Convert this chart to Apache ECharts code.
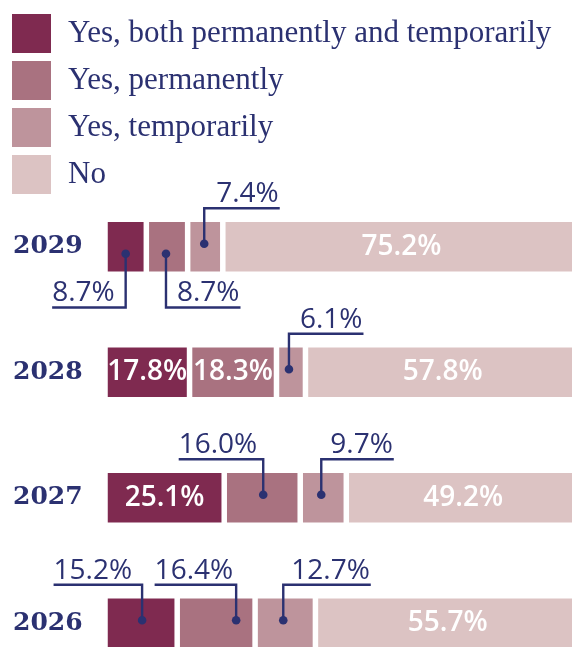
<!DOCTYPE html>
<html><head><meta charset="utf-8">
<script src="https://cdn.jsdelivr.net/npm/echarts@6/dist/echarts.min.js"></script>
<style>html,body{margin:0;padding:0;background:#fff}#c{width:572px;height:647px}</style>
</head><body><div id="c"></div>
<script>
const years = ['2029', '2028', '2027', '2026'];
const seriesNames = ['Yes, both permanently and temporarily', 'Yes, permanently', 'Yes, temporarily', 'No'];
const bothValues = [8.7, 17.8, 25.1, 15.2];
const permanentValues = [8.7, 18.3, 16.0, 16.4];
const temporaryValues = [7.4, 6.1, 9.7, 12.7];
const noValues = [75.2, 57.8, 49.2, 55.7];
const values = [bothValues, permanentValues, temporaryValues, noValues];

// Callout placement (layout only): which segments get an outside label with a leader line
const callouts = [
  { year: 0, s: 0, dir: 'down', side: 'left', dx: 0, gap: 11 },
  { year: 0, s: 1, dir: 'down', side: 'right', dx: -1, gap: 11 },
  { year: 0, s: 2, dir: 'up', side: 'right', dx: -1, gap: 12 },
  { year: 1, s: 2, dir: 'up', side: 'right', dx: -2, gap: 11 },
  { year: 2, s: 1, dir: 'up', side: 'left', dx: 1, gap: 6 },
  { year: 2, s: 2, dir: 'up', side: 'right', dx: -2, gap: 9 },
  { year: 3, s: 0, dir: 'up', side: 'left', dx: 1, gap: 10 },
  { year: 3, s: 1, dir: 'up', side: 'left', dx: 20, gap: 3 },
  { year: 3, s: 2, dir: 'up', side: 'right', dx: -2, gap: 8 }
];

const colors = ['#7F2A50', '#A97280', '#BE949C', '#DCC3C3'];
const navy = '#2B3171';
const calloutFont = '400 28px "Open Sans"';

const ctx = document.createElement('canvas').getContext('2d');
function measure(t) { ctx.font = calloutFont; return ctx.measureText(t).width; }
function fmt(v) { return v.toFixed(1) + '%'; }
function isCallout(yi, s) { return callouts.some(c => c.year === yi && c.s === s); }

const barSeries = seriesNames.map((name, s) => ({
  name: name,
  type: 'bar',
  stack: 'total',
  barWidth: 55,
  itemStyle: { color: colors[s], borderColor: '#ffffff', borderWidth: 2.75 },
  label: {
    position: 'inside', color: '#ffffff', fontFamily: 'Open Sans', fontWeight: 600, fontSize: 28,
    formatter: p => fmt(p.value)
  },
  data: values[s].map((v, yi) => ({ value: v, label: { show: !isCallout(yi, s) } }))
}));

const calloutData = callouts.map((c, i) => {
  let cum = 0;
  for (let k = 0; k < c.s; k++) cum += values[k][c.year];
  return [cum + values[c.s][c.year] / 2, c.year, i];
});

const leaderSeries = {
  type: 'custom',
  z: 10,
  silent: true,
  data: calloutData,
  renderItem: function (params, api) {
    const c = callouts[api.value(2)];
    const p = api.coord([api.value(0), api.value(1)]);
    const cx = p[0] + c.dx, cy = p[1];
    const text = fmt(values[c.s][c.year]);
    const w = measure(text);
    const dotY = c.dir === 'up' ? cy - 3 : cy + 7;
    const lineY = c.dir === 'up' ? cy - 38.5 : cy + 60.7;
    let tx, endX;
    if (c.side === 'right') { tx = cx + c.gap; endX = tx + w + 1; }
    else { tx = cx - c.gap - w; endX = tx; }
    return {
      type: 'group',
      children: [
        { type: 'polyline', shape: { points: [[cx, dotY], [cx, lineY], [endX, lineY]] },
          style: { stroke: navy, lineWidth: 2.4, fill: null, lineJoin: 'miter' } },
        { type: 'circle', shape: { cx: cx, cy: dotY, r: 4.3 }, style: { fill: navy } },
        { type: 'text', x: tx, y: lineY - 14,
          style: { text: text, font: calloutFont, fill: navy, align: 'left', verticalAlign: 'middle' } }
      ]
    };
  }
};

const chart = echarts.init(document.getElementById('c'), null, { renderer: 'canvas' });
chart.setOption({
  animation: false,
  backgroundColor: '#ffffff',
  legend: {
    orient: 'vertical', left: 12, top: 14, padding: 0, itemWidth: 39, itemHeight: 39, itemGap: 8,
    icon: 'rect', selectedMode: false, itemStyle: { borderWidth: 0 },
    textStyle: { color: navy, fontFamily: 'Liberation Serif', fontSize: 31, padding: [0, 0, 0, 12] },
    data: seriesNames
  },
  grid: { left: 105, top: 184, width: 475, height: 502, outerBoundsMode: 'none' },
  xAxis: { type: 'value', min: 0, max: 100, show: false },
  yAxis: {
    type: 'category', data: years, inverse: true,
    axisLine: { show: false }, axisTick: { show: false }, splitLine: { show: false },
    axisLabel: { align: 'left', margin: 92, fontFamily: 'DejaVu Serif', fontWeight: 'bold', fontSize: 25, color: navy }
  },
  series: barSeries.concat([leaderSeries])
});
</script>
</body></html>
